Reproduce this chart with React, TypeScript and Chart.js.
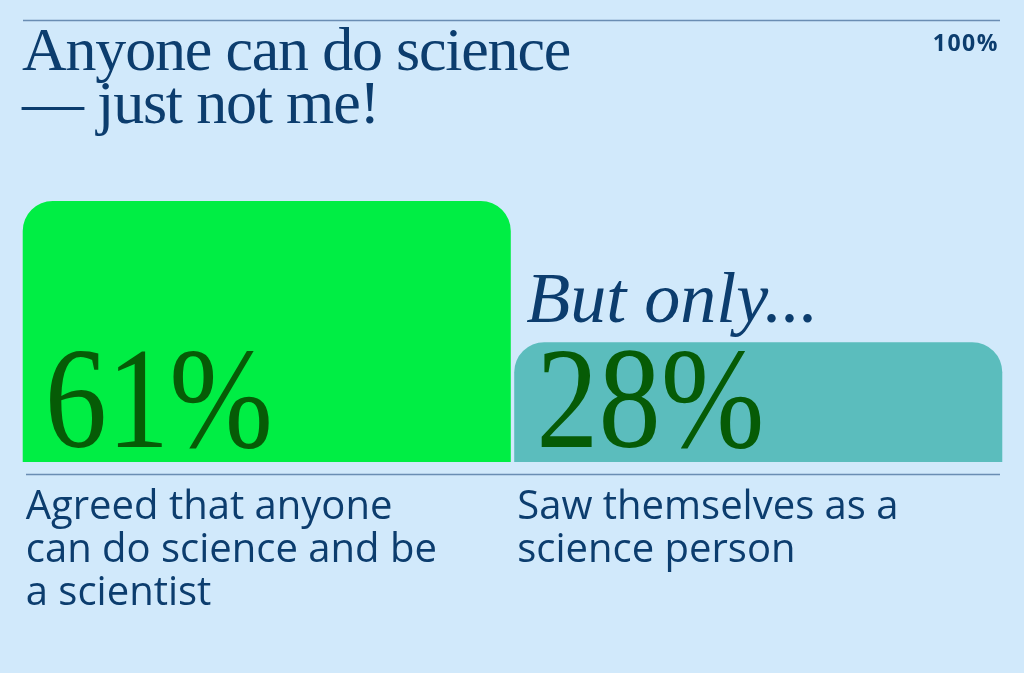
import React, { useEffect, useRef } from "react";
import { Chart, registerables } from "chart.js";

Chart.register(...registerables);

// ---- data ----
const categories: string[][] = [
  ["Agreed that anyone", "can do science and be", "a scientist"],
  ["Saw themselves as a", "science person"],
];
const values: number[] = [61, 28];
const barColors: string[] = ["#00ee44", "#5bbdbd"];
const titleLines: string[] = ["Anyone can do science", "— just not me!"];
const scaleMaxLabel = "100%";
const noteText = "But only...";
const noteIndex = 1;
const yMax = 100;

const NAVY = "#0c3d6e";
const RULE = "#6a8db3";
const VALUE_COLOR = "#065b06";
const BG = "#d1e9fb";

export default function App() {
  const ref = useRef<HTMLCanvasElement>(null);

  useEffect(() => {
    if (!ref.current) return;
    const decor = {
      id: "decor",
      afterDatasetsDraw(chart: any) {
        const { ctx, chartArea } = chart;
        ctx.save();
        ctx.strokeStyle = RULE;
        ctx.lineWidth = 1.5;
        ctx.beginPath();
        ctx.moveTo(chartArea.left + 2, 20.5);
        ctx.lineTo(chartArea.right - 4, 20.5);
        ctx.moveTo(chartArea.left + 5, chartArea.bottom + 12.5);
        ctx.lineTo(chartArea.right - 4, chartArea.bottom + 12.5);
        ctx.stroke();

        const meta = chart.getDatasetMeta(0);
        meta.data.forEach((bar: any, i: number) => {
          const { x, y, base, width } = bar.getProps(["x", "y", "base", "width"], true);
          const left = x - width / 2;
          ctx.save();
          ctx.fillStyle = VALUE_COLOR;
          ctx.font = "143px 'Liberation Serif'";
          ctx.textBaseline = "alphabetic";
          ctx.textAlign = "left";
          ctx.translate(left + 22, base - 15);
          ctx.scale(0.87, 1);
          ctx.fillText(`${values[i]}%`, 0, 0);
          ctx.restore();
          if (i === noteIndex) {
            ctx.save();
            ctx.fillStyle = NAVY;
            ctx.font = "italic 72px 'Liberation Serif'";
            ctx.textBaseline = "alphabetic";
            ctx.textAlign = "left";
            ctx.fillText(noteText, left + 12, y - 20);
            ctx.restore();
          }
        });
        ctx.restore();
      },
    };

    const chart = new Chart(ref.current, {
      type: "bar",
      data: {
        labels: categories as any,
        datasets: [
          {
            data: values,
            backgroundColor: barColors,
            borderRadius: 30,
            borderSkipped: "start",
            barPercentage: 0.993,
            categoryPercentage: 1,
          },
        ],
      },
      options: {
        responsive: false,
        animation: false,
        layout: { padding: { top: 34, left: 21, right: 20, bottom: 34 } },
        plugins: {
          legend: { display: false },
          tooltip: { enabled: false },
          title: { display: false },
        },
        scales: {
          x: {
            grid: { display: false, drawTicks: false },
            border: { display: false },
            ticks: {
              align: "start",
              labelOffset: -241,
              padding: 24,
              color: NAVY,
              font: { family: "'Open Sans'", size: 40, lineHeight: 1.075 },
              maxRotation: 0,
              minRotation: 0,
              autoSkip: false,
            },
            afterFit: (s: any) => {
              s.paddingLeft = 0;
              s.paddingRight = 0;
            },
          },
          y: { display: false, min: 0, max: yMax },
        },
      },
      plugins: [decor],
    });
    return () => chart.destroy();
  }, []);

  return (
    <div
      style={{
        position: "fixed",
        left: 0,
        top: 0,
        width: 1024,
        height: 673,
        background: BG,
        overflow: "hidden",
      }}
    >
      <canvas
        ref={ref}
        width={1024}
        height={673}
        style={{ position: "absolute", left: 0, top: 0, width: 1024, height: 673 }}
      />
      <div
        style={{
          position: "absolute",
          left: 22,
          top: 23,
          fontFamily: "'Liberation Serif', serif",
          fontSize: 62,
          lineHeight: "53px",
          letterSpacing: -1.2,
          color: NAVY,
          whiteSpace: "nowrap",
        }}
      >
        {titleLines.map((t, i) => (
          <div key={i}>{t}</div>
        ))}
      </div>
      <div
        style={{
          position: "absolute",
          right: 25,
          top: 28,
          fontFamily: "'Open Sans', sans-serif",
          fontWeight: 700,
          fontSize: 23,
          lineHeight: "28px",
          letterSpacing: 1.5,
          color: NAVY,
        }}
      >
        {scaleMaxLabel}
      </div>
    </div>
  );
}
